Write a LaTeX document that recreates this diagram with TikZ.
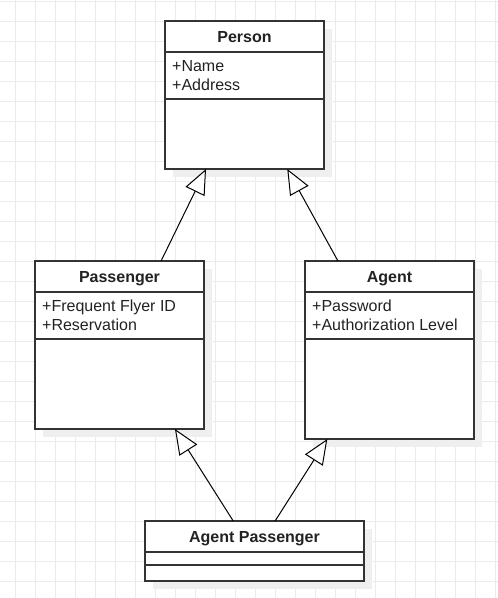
\documentclass[tikz,border=0pt]{standalone}
\usepackage{fontspec}
\setmainfont{Liberation Sans}
\usetikzlibrary{arrows.meta,shadows,calc}
\definecolor{gridc}{HTML}{EBEBEB}
\definecolor{shadowc}{HTML}{EFEFEF}
\definecolor{linec}{HTML}{333333}
\definecolor{textc}{HTML}{222222}
\tikzset{
 classbox/.style={draw=linec, line width=1.4pt, fill=white, anchor=north west, inner sep=0pt, outer sep=0pt,
   general shadow={fill=shadowc, shadow xshift=8pt, shadow yshift=-8pt}},
 divider/.style={draw=linec, line width=1.4pt},
 title/.style={font=\fontsize{16}{19}\selectfont\bfseries, text=textc, anchor=base, inner sep=0pt},
 attr/.style={font=\fontsize{16}{19}\selectfont, text=textc, anchor=base west, inner sep=0pt},
 inherit/.style={draw=black, line width=1pt, -{Triangle[length=25pt, width=21pt, fill=white]}},
 gridline/.style={draw=gridc, line width=1pt},
}
\begin{document}
\begin{tikzpicture}[x=1pt,y=-1pt]
\fill[white] (0,0) rectangle (498,598);
\useasboundingbox (0,0) rectangle (498,598);
\foreach \gx in {15,35,...,495} \draw[gridline] (\gx,0) -- (\gx,598);
\foreach \gy in {1,21,...,597} \draw[gridline] (0,\gy) -- (498,\gy);

% Person
\node[classbox, minimum width=159pt, minimum height=148pt] (person) at (165,21) {};
\draw[divider] ([yshift=-31pt]person.north west) -- ([yshift=-31pt]person.north east);
\draw[divider] ([yshift=-78pt]person.north west) -- ([yshift=-78pt]person.north east);
\node[title] (personT) at ([yshift=-21.3pt]person.north) {Person};
\node[attr] (personA1) at ([xshift=7pt,yshift=-50pt]person.north west) {+Name};
\node[attr] (personA2) at ([xshift=7pt,yshift=-69pt]person.north west) {+Address};

% Passenger
\node[classbox, minimum width=169pt, minimum height=168pt] (passenger) at (35,261) {};
\draw[divider] ([yshift=-31pt]passenger.north west) -- ([yshift=-31pt]passenger.north east);
\draw[divider] ([yshift=-78pt]passenger.north west) -- ([yshift=-78pt]passenger.north east);
\node[title] (passengerT) at ([yshift=-21.3pt]passenger.north) {Passenger};
\node[attr] (passengerA1) at ([xshift=7pt,yshift=-50pt]passenger.north west) {+Frequent Flyer ID};
\node[attr] (passengerA2) at ([xshift=7pt,yshift=-69pt]passenger.north west) {+Reservation};

% Agent
\node[classbox, minimum width=169pt, minimum height=178pt] (agent) at (305,261) {};
\draw[divider] ([yshift=-31pt]agent.north west) -- ([yshift=-31pt]agent.north east);
\draw[divider] ([yshift=-78pt]agent.north west) -- ([yshift=-78pt]agent.north east);
\node[title] (agentT) at ([yshift=-21.3pt]agent.north) {Agent};
\node[attr] (agentA1) at ([xshift=7pt,yshift=-50pt]agent.north west) {+Password};
\node[attr] (agentA2) at ([xshift=7pt,yshift=-69pt]agent.north west) {+Authorization Level};

% Agent Passenger
\node[classbox, minimum width=219pt, minimum height=60pt] (agentpass) at (145,521) {};
\draw[divider] ([yshift=-31pt]agentpass.north west) -- ([yshift=-31pt]agentpass.north east);
\draw[divider] ([yshift=-44pt]agentpass.north west) -- ([yshift=-44pt]agentpass.north east);
\node[title] (agentpassT) at ([yshift=-21.3pt]agentpass.north) {Agent Passenger};

% Generalisations
\draw[inherit] ($(passenger.north west)!0.746!(passenger.north east)$) -- ($(person.south west)!0.258!(person.south east)$);
\draw[inherit] ($(agent.north west)!0.195!(agent.north east)$) -- ($(person.south west)!0.769!(person.south east)$);
\draw[inherit] ($(agentpass.north west)!0.403!(agentpass.north east)$) -- ($(passenger.south west)!0.828!(passenger.south east)$);
\draw[inherit] ($(agentpass.north west)!0.594!(agentpass.north east)$) -- ($(agent.south west)!0.132!(agent.south east)$);
\end{tikzpicture}
\end{document}
